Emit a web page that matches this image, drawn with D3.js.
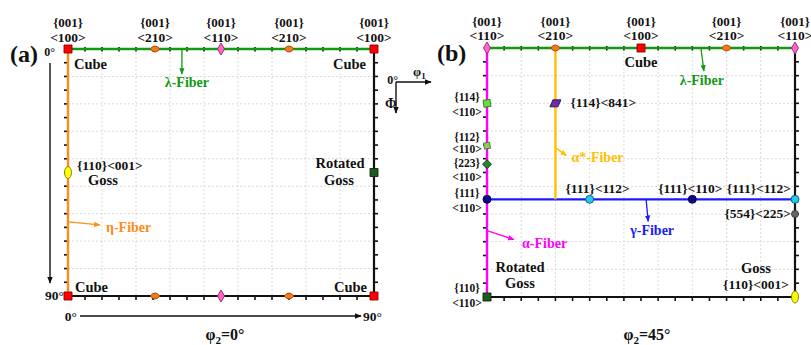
<!DOCTYPE html>
<html>
<head>
<meta charset="utf-8">
<script src="https://cdn.jsdelivr.net/npm/d3@7"></script>
<style>
  body { margin: 0; background: #fff; }
  svg text { font-family: "Liberation Serif", "Times New Roman", "DejaVu Serif", serif; font-weight: bold; fill: #111; }
</style>
</head>
<body>
<svg id="chart" width="811" height="345" font-family="Liberation Serif, DejaVu Serif, serif"></svg>
<script>
// Euler-angle ticks (degrees)
const tickDeg = d3.range(0, 91, 5);
const gridDeg = d3.range(0, 91, 10);

// ---- φ2 = 0° section ----
const aNames = ["Cube", "Cube", "Cube", "Cube", "{001}<210>", "{001}<110>", "{001}<210>",
                "{001}<210>", "{001}<110>", "{001}<210>", "Goss", "Rotated Goss"];
const aPhi1 = [0, 90, 0, 90, 25.6, 45, 65, 25.6, 45, 65, 0, 90];
const aPhi  = [0, 0, 90, 90, 0, 0, 0, 90, 90, 90, 45, 45];
const aTopPhi1 = [0, 25.6, 45, 65, 90];
const aTopHkl = ["{001}", "{001}", "{001}", "{001}", "{001}"];
const aTopUvw = ["<100>", "<210>", "<110>", "<210>", "<100>"];
const aFiberNames = ["λ-Fiber", "η-Fiber"];
const aFiberFrom = [[0, 0], [0, 0]];
const aFiberTo   = [[90, 0], [0, 90]];

// ---- φ2 = 45° section ----
const bNames = ["{001}<110>", "{001}<210>", "Cube", "{001}<210>", "{001}<110>",
                "{114}<110>", "{112}<110>", "{223}<110>",
                "{111}<110>", "{111}<112>", "{111}<110>", "{111}<112>",
                "{554}<225>", "{114}<841>", "Rotated Goss", "Goss"];
const bPhi1 = [0, 20, 45, 70, 90, 0, 0, 0, 0, 30, 60, 90, 90, 20, 0, 90];
const bPhi  = [0, 0, 0, 0, 0, 20, 35.3, 42, 54.7, 54.7, 54.7, 54.7, 60, 20, 90, 90];
const bTopPhi1 = [0, 20, 45, 70, 90];
const bTopHkl = ["{001}", "{001}", "{001}", "{001}", "{001}"];
const bTopUvw = ["<110>", "<210>", "<100>", "<210>", "<110>"];
const bSidePhi = [20, 35.3, 42, 54.7, 90];
const bSideHkl = ["{114}", "{112}", "{223}", "{111}", "{110}"];
const bSideUvw = ["<110>", "<110>", "<110>", "<110>", "<110>"];
const bFiberNames = ["λ-Fiber", "α-Fiber", "γ-Fiber", "α*-Fiber"];
const bFiberFrom = [[0, 0], [0, 0], [0, 54.7], [20, 0]];
const bFiberTo   = [[90, 0], [0, 90], [90, 54.7], [20, 54.7]];

// ---- styling ----
const fiberColor = {
  "λ-Fiber": "#119911", "η-Fiber": "#ff8c1a", "α-Fiber": "#ff00ff",
  "γ-Fiber": "#1a1aff", "α*-Fiber": "#ffc000"
};
const markStyle = {
  "Cube":         { shape: "square",  w: 8, h: 8,  fill: "#ff0000", stroke: "#8b0000" },
  "{001}<210>":   { shape: "lens",    w: 10, h: 6, fill: "#f07a1e", stroke: "#a04000" },
  "{001}<110>":   { shape: "diamond", w: 7, h: 12, fill: "#ff66cc", stroke: "#a0206a" },
  "Goss":         { shape: "ellipse", w: 7, h: 12, fill: "#ffff00", stroke: "#7a7a00" },
  "Rotated Goss": { shape: "square",  w: 8, h: 8,  fill: "#1e5a1e", stroke: "#0b2a0b" },
  "{114}<110>":   { shape: "tilted",  w: 8, h: 8,  fill: "#66dd44", stroke: "#2c7a1a" },
  "{112}<110>":   { shape: "tilted",  w: 7, h: 7,  fill: "#8fcc55", stroke: "#3e7a20" },
  "{223}<110>":   { shape: "diamond", w: 9, h: 9,  fill: "#1f8a2a", stroke: "#0b3a10" },
  "{111}<110>":   { shape: "circle",  w: 8, h: 8,  fill: "#0a0a8a", stroke: "#000040" },
  "{111}<112>":   { shape: "circle",  w: 8, h: 8,  fill: "#22c8ee", stroke: "#0a5a70" },
  "{554}<225>":   { shape: "circle",  w: 7, h: 7,  fill: "#666666", stroke: "#333333" },
  "{114}<841>":   { shape: "parallelogram", w: 11, h: 7, fill: "#6a2cb0", stroke: "#2a0a50" }
};

const svg = d3.select("#chart");
const defs = svg.append("defs");
function arrowId(color) {
  const id = "arw" + color.replace("#", "");
  if (defs.select("#" + id).empty()) {
    defs.append("marker").attr("id", id).attr("viewBox", "0 0 10 10")
      .attr("refX", 9).attr("refY", 5).attr("markerWidth", 5).attr("markerHeight", 5)
      .attr("orient", "auto")
      .append("path").attr("d", "M0,1L10,5L0,9Z").attr("fill", color);
  }
  return "url(#" + id + ")";
}

function shapePath(s) {
  const w = s.w / 2, h = s.h / 2;
  switch (s.shape) {
    case "square": return `M${-w},${-h}H${w}V${h}H${-w}Z`;
    case "diamond": return `M0,${-h}L${w},0L0,${h}L${-w},0Z`;
    case "lens": return `M${-w},0Q${-w * 0.4},${-h * 1.1} 0,${-h}Q${w * 0.4},${-h * 1.1} ${w},0Q${w * 0.4},${h * 1.1} 0,${h}Q${-w * 0.4},${h * 1.1} ${-w},0Z`;
    case "ellipse": return `M0,${-h}A${w},${h} 0 1,1 0,${h}A${w},${h} 0 1,1 0,${-h}Z`;
    case "circle": return `M0,${-h}A${w},${h} 0 1,1 0,${h}A${w},${h} 0 1,1 0,${-h}Z`;
    case "tilted": return `M${-w},${-h + 1}L${w - 1},${-h}L${w},${h - 1}L${-w + 1},${h}Z`;
    case "parallelogram": return `M${-w + 3},${-h}H${w}L${w - 3},${h}H${-w}Z`;
  }
}

function drawPanel(cfg) {
  const x = d3.scaleLinear().domain([0, 90]).range(cfg.xRange);
  const y = d3.scaleLinear().domain([0, 90]).range(cfg.yRange);
  const g = svg.append("g");

  // dotted grid every 10°
  const grid = g.append("g").attr("stroke", "#cfcfcf").attr("stroke-width", 0.8).attr("stroke-dasharray", "2,2");
  grid.selectAll(".gx").data(gridDeg.slice(1, -1)).join("line")
    .attr("x1", d => x(d)).attr("x2", d => x(d)).attr("y1", y(0)).attr("y2", y(90));
  grid.selectAll(".gy").data(gridDeg.slice(1, -1)).join("line")
    .attr("y1", d => y(d)).attr("y2", d => y(d)).attr("x1", x(0)).attr("x2", x(90));

  // ticks every 5°
  const tk = g.append("g").attr("stroke", "#111").attr("stroke-width", 1.6);
  const inner = tickDeg.slice(1, -1);
  tk.selectAll(".tt").data(inner).join("line")
    .attr("x1", d => x(d)).attr("x2", d => x(d)).attr("y1", y(0) - 2).attr("y2", y(0) + 2.5);
  tk.selectAll(".tb").data(inner).join("line")
    .attr("x1", d => x(d)).attr("x2", d => x(d)).attr("y1", y(90)).attr("y2", y(90) + 4);
  tk.selectAll(".tl").data(inner).join("line")
    .attr("y1", d => y(d)).attr("y2", d => y(d)).attr("x1", x(0) - 4).attr("x2", x(0));
  tk.selectAll(".tr").data(inner).join("line")
    .attr("y1", d => y(d)).attr("y2", d => y(d)).attr("x1", x(90)).attr("x2", x(90) + 4);

  // black frame (right & bottom visible)
  g.append("path").attr("fill", "none").attr("stroke", "#111").attr("stroke-width", 2.2)
    .attr("d", `M${x(90)},${y(0)}V${y(90)}H${x(0)}`);

  // fibers
  cfg.fiberNames.forEach((n, i) => {
    g.append("line")
      .attr("x1", x(cfg.fiberFrom[i][0])).attr("y1", y(cfg.fiberFrom[i][1]))
      .attr("x2", x(cfg.fiberTo[i][0])).attr("y2", y(cfg.fiberTo[i][1]))
      .attr("stroke", fiberColor[n]).attr("stroke-width", 2.4);
  });

  // fiber annotations: anchor point on fiber, arrow, label
  cfg.fiberNotes.forEach(a => {
    const px = x(a.at[0]), py = y(a.at[1]);
    const c = fiberColor[a.name];
    g.append("line").attr("x1", px).attr("y1", py)
      .attr("x2", px + a.arrow[0]).attr("y2", py + a.arrow[1])
      .attr("stroke", c).attr("stroke-width", 1.3).attr("marker-end", arrowId(c));
    g.append("text").attr("x", px + a.text[0]).attr("y", py + a.text[1])
      .attr("text-anchor", a.anchor).style("fill", c).style("font-size", "14px").text(a.name);
  });

  // top orientation labels
  cfg.topPhi1.forEach((p, i) => {
    g.append("text").attr("x", x(p)).attr("y", cfg.topY[0]).attr("text-anchor", "middle")
      .style("font-size", "13px").text(cfg.topHkl[i]);
    g.append("text").attr("x", x(p)).attr("y", cfg.topY[1]).attr("text-anchor", "middle")
      .style("font-size", "13.5px").text(cfg.topUvw[i]);
  });

  // texture component marks
  cfg.names.forEach((n, i) => {
    const s = markStyle[n];
    g.append("path").attr("transform", `translate(${x(cfg.phi1[i])},${y(cfg.phi[i])})`)
      .attr("d", shapePath(s)).attr("fill", s.fill).attr("stroke", s.stroke).attr("stroke-width", 0.9);
  });

  // component labels
  cfg.notes.forEach(t => {
    g.append("text").attr("x", x(t.at[0]) + t.d[0]).attr("y", y(t.at[1]) + t.d[1])
      .attr("text-anchor", t.anchor).style("font-size", (t.size || 13.5) + "px").text(t.text);
  });

  return { x, y, g };
}

// ---- panel (a) ----
const A = drawPanel({
  xRange: [68, 374], yRange: [49, 296],
  names: aNames, phi1: aPhi1, phi: aPhi,
  fiberNames: aFiberNames, fiberFrom: aFiberFrom, fiberTo: aFiberTo,
  topPhi1: aTopPhi1, topHkl: aTopHkl, topUvw: aTopUvw, topY: [27, 42],
  fiberNotes: [
    { name: "λ-Fiber", at: [33.5, 0], arrow: [0, 25], text: [5, 38], anchor: "middle" },
    { name: "η-Fiber", at: [0, 63], arrow: [32, 3], text: [38, 10], anchor: "start" }
  ],
  notes: [
    { text: "Cube", at: [0, 0], d: [6, 20], anchor: "start", size: 14.5 },
    { text: "Cube", at: [90, 0], d: [-8, 20], anchor: "end", size: 14.5 },
    { text: "Cube", at: [0, 90], d: [7, -4], anchor: "start", size: 14.5 },
    { text: "Cube", at: [90, 90], d: [-7, -4], anchor: "end", size: 14.5 },
    { text: "{110}<001>", at: [0, 45], d: [9, -3], anchor: "start" },
    { text: "Goss", at: [0, 45], d: [35, 12.5], anchor: "middle", size: 14.5 },
    { text: "Rotated", at: [90, 45], d: [-34, -5], anchor: "middle", size: 14.5 },
    { text: "Goss", at: [90, 45], d: [-35, 12], anchor: "middle", size: 14.5 }
  ]
});

// ---- panel (b) ----
const B = drawPanel({
  xRange: [487, 795], yRange: [48, 297],
  names: bNames, phi1: bPhi1, phi: bPhi,
  fiberNames: bFiberNames, fiberFrom: bFiberFrom, fiberTo: bFiberTo,
  topPhi1: bTopPhi1, topHkl: bTopHkl, topUvw: bTopUvw, topY: [26, 40],
  fiberNotes: [
    { name: "λ-Fiber", at: [62.5, 0], arrow: [3, 23], text: [1, 37], anchor: "middle" },
    { name: "α*-Fiber", at: [20, 36], arrow: [11, 8], text: [16, 14], anchor: "start" },
    { name: "γ-Fiber", at: [46.5, 54.7], arrow: [2, 22], text: [6, 36], anchor: "middle" },
    { name: "α-Fiber", at: [0, 66], arrow: [27, 9], text: [35, 17], anchor: "start" }
  ],
  notes: [
    { text: "Cube", at: [45, 0], d: [0, 19], anchor: "middle", size: 14.5 },
    { text: "{114}<841>", at: [20, 20], d: [15, 4], anchor: "start" },
    { text: "{111}<112>", at: [30, 54.7], d: [8, -6], anchor: "middle" },
    { text: "{111}<110>", at: [60, 54.7], d: [-2, -6], anchor: "middle" },
    { text: "{111}<112>", at: [90, 54.7], d: [-4, -6], anchor: "end" },
    { text: "{554}<225>", at: [90, 60], d: [-4, 4], anchor: "end" },
    { text: "Rotated", at: [0, 90], d: [33, -25], anchor: "middle", size: 14.5 },
    { text: "Goss", at: [0, 90], d: [33, -9], anchor: "middle", size: 14.5 },
    { text: "Goss", at: [90, 90], d: [-39, -24], anchor: "middle", size: 14.5 },
    { text: "{110}<001>", at: [90, 90], d: [-39, -8], anchor: "middle" }
  ]
});

// side labels of the α-fiber components
const sideDy = [[-2, 13], [-5, 7], [3, 17], [-2, 13], [-5, 10]];
bSidePhi.forEach((p, i) => {
  B.g.append("text").attr("x", 467).attr("y", B.y(p) + sideDy[i][0]).attr("text-anchor", "middle")
    .style("font-size", "11.5px").text(bSideHkl[i]);
  B.g.append("text").attr("x", 467).attr("y", B.y(p) + sideDy[i][1]).attr("text-anchor", "middle")
    .style("font-size", "11.5px").text(bSideUvw[i]);
});

// panel letters
svg.append("text").attr("x", 10).attr("y", 62).style("font-size", "24px").text("(a)");
svg.append("text").attr("x", 437).attr("y", 61).style("font-size", "24px").text("(b)");

// Φ axis of panel (a)
svg.append("text").attr("x", 55).attr("y", 56).attr("text-anchor", "end").style("font-size", "12px").text("0°");
svg.append("line").attr("x1", 50).attr("y1", 63).attr("x2", 50).attr("y2", 283)
  .attr("stroke", "#111").attr("stroke-width", 1.4).attr("marker-end", arrowId("#111111"));
svg.append("text").attr("x", 64).attr("y", 300).attr("text-anchor", "end").style("font-size", "13.5px").text("90°");

// φ1 axis of panel (a)
svg.append("text").attr("x", 77).attr("y", 321).attr("text-anchor", "end").style("font-size", "13.5px").text("0°");
svg.append("line").attr("x1", 80).attr("y1", 316).attr("x2", 361).attr("y2", 316)
  .attr("stroke", "#111").attr("stroke-width", 1.4).attr("marker-end", arrowId("#111111"));
svg.append("text").attr("x", 363).attr("y", 321).style("font-size", "13.5px").text("90°");

// orientation key: φ1 to the right, Φ downward
svg.append("text").attr("x", 398).attr("y", 84).attr("text-anchor", "end").style("font-size", "12px").text("0°");
svg.append("line").attr("x1", 396).attr("y1", 82).attr("x2", 431).attr("y2", 82)
  .attr("stroke", "#111").attr("stroke-width", 1.4).attr("marker-end", arrowId("#111111"));
svg.append("line").attr("x1", 396).attr("y1", 82).attr("x2", 396).attr("y2", 113)
  .attr("stroke", "#111").attr("stroke-width", 1.4).attr("marker-end", arrowId("#111111"));
const k1 = svg.append("text").attr("x", 413).attr("y", 76).style("font-size", "13px");
k1.append("tspan").text("φ");
k1.append("tspan").attr("dy", 2.5).style("font-size", "9px").text("1");
svg.append("text").attr("x", 385).attr("y", 108).style("font-size", "14px").text("Φ");

// section titles
function sectionTitle(cx, val) {
  const t = svg.append("text").attr("x", cx).attr("y", 340).attr("text-anchor", "middle").style("font-size", "16px");
  t.append("tspan").text("φ");
  t.append("tspan").attr("dy", 4).style("font-size", "11px").text("2");
  t.append("tspan").attr("dy", -4).text("=" + val);
}
sectionTitle(225, "0°");
sectionTitle(647, "45°");
</script>
</body>
</html>
